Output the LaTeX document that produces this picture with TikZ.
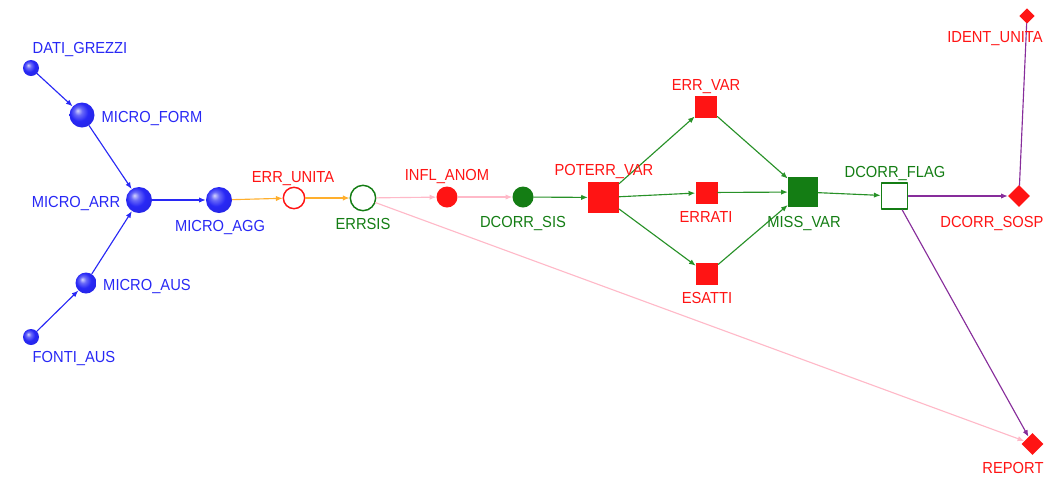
\documentclass[tikz,border=0pt]{standalone}
\usepackage{fontspec}
\setmainfont[FakeStretch=0.92]{Liberation Sans}
\usetikzlibrary{shapes.geometric,arrows.meta}
\definecolor{nblue}{RGB}{40,40,245}
\definecolor{nred}{RGB}{255,20,20}
\definecolor{ngreen}{RGB}{20,125,20}
\definecolor{eorange}{RGB}{255,175,45}
\definecolor{epink}{RGB}{255,185,200}
\definecolor{egreen}{RGB}{40,145,40}
\definecolor{epurple}{RGB}{135,45,155}
\pgfdeclareradialshading{bluesphere}{\pgfpoint{-9bp}{9bp}}{color(0bp)=(nblue!20!white);
    color(8bp)=(nblue!70!white); color(18bp)=(nblue); color(34bp)=(nblue!92!black);
    color(50bp)=(nblue!85!black)}
\begin{document}
\begin{tikzpicture}[x=0.75pt,y=-0.75pt,>={Latex[length=5pt,width=4pt]},
    font=\fontsize{12}{14}\selectfont, line join=round, line cap=round,
    ball/.style={circle,inner sep=0pt,minimum size=#1,shading=bluesphere},
    ring/.style={circle,inner sep=0pt,draw=#1,line width=1.1pt,fill=white},
    dot/.style={circle,inner sep=0pt,fill=#1,minimum size=15.75pt},
    sq/.style={rectangle,inner sep=0pt,fill=nred,minimum size=#1},
    rhomb/.style={diamond,inner sep=0pt,fill=nred,minimum size=#1},
    txt/.style={anchor=base,inner sep=0pt,text=#1},
    edge/.style={->,draw=#1,line width=0.85pt}]
    \useasboundingbox (0,0) rectangle (1064,476);
    % nodes
    \node[ball=12pt] (dati) at (31,68) {};
    \node[ball=18.75pt] (form) at (82,115) {};
    \node[ball=19.5pt] (arr) at (139,200) {};
    \node[ball=15.75pt] (aus) at (86,283) {};
    \node[ball=12pt] (fonti) at (31,337) {};
    \node[ball=19.5pt] (agg) at (219,200) {};
    \node[ring=nred,minimum size=16pt] (errunita) at (294,198) {};
    \node[ring=ngreen,minimum size=19pt] (errsis) at (363,198) {};
    \node[dot=nred] (infl) at (447,197) {};
    \node[dot=ngreen] (dcsis) at (523,197) {};
    \node[sq=23pt] (poterr) at (603.5,197.5) {};
    \node[sq=16.5pt] (errvar) at (706,106.5) {};
    \node[sq=16.5pt] (errati) at (706.5,192.5) {};
    \node[sq=16.5pt] (esatti) at (707,274) {};
    \node[sq=22.5pt,fill=ngreen] (miss) at (803,192) {};
    \node[rectangle,inner sep=0pt,draw=ngreen,line width=1.1pt,fill=white,minimum size=19.8pt] (flag) at (894.5,196) {};
    \node[rhomb=16.5pt] (sosp) at (1019,196) {};
    \node[rhomb=11.5pt] (ident) at (1027,16) {};
    \node[rhomb=16.5pt] (report) at (1032.5,444) {};
    % connectors
    \draw[edge=nblue] (dati) -- (form);
    \draw[edge=nblue] (form) -- (arr);
    \draw[edge=nblue] (fonti) -- (aus);
    \draw[edge=nblue] (aus) -- (arr);
    \draw[edge=nblue] (arr) -- (agg);
    \draw[edge=eorange] (agg) -- (errunita);
    \draw[edge=eorange] (errunita) -- (errsis);
    \draw[edge=epink] (errsis) -- (infl);
    \draw[edge=epink] (infl) -- (dcsis);
    \draw[edge=epink] (errsis) -- (report);
    \draw[edge=egreen] (dcsis) -- (poterr);
    \foreach \t in {errvar,errati,esatti}{
        \draw[edge=egreen] (poterr) -- (\t);
        \draw[edge=egreen] (\t) -- (miss);
    }
    \draw[edge=egreen] (miss) -- (flag);
    \draw[edge=epurple] (flag) -- (sosp);
    \draw[edge=epurple] (flag) -- (report);
    \draw[epurple,line width=0.85pt] (sosp) -- (ident);
    % labels
    \node[txt=nblue] (l-dati) at (80,53) {DATI\_GREZZI};
    \node[txt=nblue] (l-form) at (152,122) {MICRO\_FORM};
    \node[txt=nblue] (l-arr) at (76,207) {MICRO\_ARR};
    \node[txt=nblue] (l-aus) at (147,290) {MICRO\_AUS};
    \node[txt=nblue] (l-fonti) at (74,362) {FONTI\_AUS};
    \node[txt=nblue] (l-agg) at (220,231) {MICRO\_AGG};
    \node[txt=nred] (l-errunita) at (293,182.5) {ERR\_UNITA};
    \node[txt=ngreen] (l-errsis) at (363,229) {ERRSIS};
    \node[txt=nred] (l-infl) at (447,180) {INFL\_ANOM};
    \node[txt=ngreen] (l-dcsis) at (523,227) {DCORR\_SIS};
    \node[txt=nred] (l-poterr) at (604,175) {POTERR\_VAR};
    \node[txt=nred] (l-errvar) at (706,90) {ERR\_VAR};
    \node[txt=nred] (l-errati) at (706,222) {ERRATI};
    \node[txt=nred] (l-esatti) at (707,303) {ESATTI};
    \node[txt=ngreen] (l-miss) at (804,227) {MISS\_VAR};
    \node[txt=ngreen] (l-flag) at (895,177) {DCORR\_FLAG};
    \node[txt=nred] (l-sosp) at (992,227) {DCORR\_SOSP};
    \node[txt=nred] (l-ident) at (995,42) {IDENT\_UNITA};
    \node[txt=nred] (l-report) at (1013,473) {REPORT};
\end{tikzpicture}
\end{document}
